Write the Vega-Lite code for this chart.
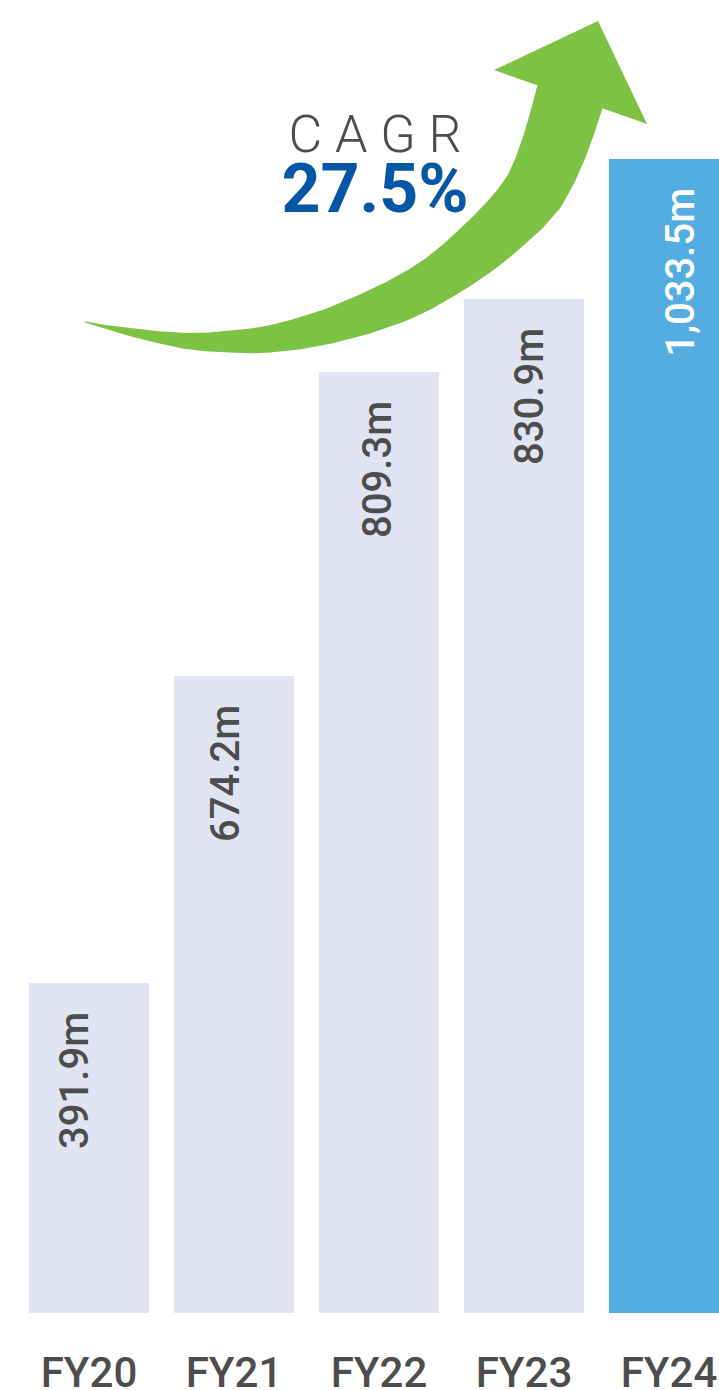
{
  "$schema": "https://vega.github.io/schema/vega-lite/v6.json",
  "width": 719,
  "height": 1313,
  "autosize": {"type": "none"},
  "padding": {"left": 0, "top": 0, "right": 0, "bottom": 77},
  "background": "white",
  "config": {"view": {"stroke": null}, "font": "Roboto"},
  "datasets": {
    "revenue": [
      {"year": "FY20", "revenue": 391.9, "label": "391.9m"},
      {"year": "FY21", "revenue": 674.2, "label": "674.2m"},
      {"year": "FY22", "revenue": 809.3, "label": "809.3m"},
      {"year": "FY23", "revenue": 830.9, "label": "830.9m"},
      {"year": "FY24", "revenue": 1033.5, "label": "1,033.5m"}
    ],
    "arrowBody": [
      {"order": 1, "ax": 85, "ay": 322, "thickness": 0},
      {"order": 2, "ax": 106.8, "ay": 327.1, "thickness": 4},
      {"order": 3, "ax": 130, "ay": 332, "thickness": 8},
      {"order": 4, "ax": 158.1, "ay": 337.1, "thickness": 12},
      {"order": 5, "ax": 186, "ay": 341, "thickness": 16},
      {"order": 6, "ax": 209, "ay": 342, "thickness": 19},
      {"order": 7, "ax": 230, "ay": 341.5, "thickness": 22},
      {"order": 8, "ax": 249, "ay": 341.1, "thickness": 24.5},
      {"order": 9, "ax": 270, "ay": 339, "thickness": 27},
      {"order": 10, "ax": 298.3, "ay": 333.9, "thickness": 31},
      {"order": 11, "ax": 330, "ay": 326, "thickness": 35},
      {"order": 12, "ax": 364.6, "ay": 314.2, "thickness": 40},
      {"order": 13, "ax": 397, "ay": 301, "thickness": 44},
      {"order": 14, "ax": 420.4, "ay": 289.1, "thickness": 45.5},
      {"order": 15, "ax": 440, "ay": 277, "thickness": 47},
      {"order": 16, "ax": 458.75, "ay": 263.75, "thickness": 50},
      {"order": 17, "ax": 476, "ay": 250, "thickness": 53},
      {"order": 18, "ax": 492, "ay": 236.3, "thickness": 55},
      {"order": 19, "ax": 507, "ay": 222, "thickness": 57},
      {"order": 20, "ax": 521.7, "ay": 207.1, "thickness": 59.5},
      {"order": 21, "ax": 535, "ay": 190, "thickness": 62},
      {"order": 22, "ax": 545.8, "ay": 168.5, "thickness": 64},
      {"order": 23, "ax": 555, "ay": 145, "thickness": 66},
      {"order": 24, "ax": 562.8, "ay": 121.2, "thickness": 67.5},
      {"order": 25, "ax": 570, "ay": 97, "thickness": 69}
    ],
    "arrowHead": [{"ax": 579.7, "ay": 71.7}],
    "cagrTitle": [{"ax": 375, "ay": 152, "text": "C A G R"}],
    "cagrValue": [{"ax": 375, "ay": 212, "text": "27.5%"}]
  },
  "layer": [
    {
      "data": {"name": "revenue"},
      "mark": {"type": "bar"},
      "encoding": {
        "x": {
          "field": "year", "type": "nominal", "sort": null,
          "scale": {"range": [0, 758], "paddingInner": 0.17241, "paddingOuter": 0.2},
          "axis": {
            "title": null, "domain": false, "ticks": false, "tickSize": 0, "grid": false,
            "labelAngle": 0, "labelFont": "Roboto", "labelFontSize": 42, "labelFontWeight": 500,
            "labelColor": "#4D4D4D", "labelBaseline": "alphabetic", "labelPadding": 73
          }
        },
        "y": {
          "field": "revenue", "type": "quantitative",
          "scale": {"domain": [0, 391.9, 674.2, 809.3, 830.9, 1033.5], "range": [1313, 983, 676, 372, 299, 159], "nice": false, "zero": false},
          "axis": null
        },
        "color": {
          "field": "year", "type": "nominal",
          "scale": {"domain": ["FY20", "FY21", "FY22", "FY23", "FY24"], "range": ["#E0E4F3", "#E0E4F3", "#E0E4F3", "#E0E4F3", "#53ADE0"]},
          "legend": null
        }
      }
    },
    {
      "data": {"name": "revenue"},
      "mark": {"type": "text", "angle": 270, "align": "right", "baseline": "middle", "yOffset": 29, "xOffset": 0, "font": "Roboto", "fontSize": 40, "fontWeight": 500},
      "encoding": {
        "x": {
          "field": "year", "type": "nominal", "sort": null,
          "scale": {"range": [0, 758], "paddingInner": 0.17241, "paddingOuter": 0.2},
          "axis": null
        },
        "y": {
          "field": "revenue", "type": "quantitative",
          "scale": {"domain": [0, 391.9, 674.2, 809.3, 830.9, 1033.5], "range": [1313, 983, 676, 372, 299, 159], "nice": false, "zero": false},
          "axis": null
        },
        "text": {"field": "label"},
        "color": {
          "field": "year", "type": "nominal",
          "scale": {"domain": ["FY20", "FY21", "FY22", "FY23", "FY24"], "range": ["#4D4D4D", "#4D4D4D", "#4D4D4D", "#4D4D4D", "#FFFFFF"]},
          "legend": null
        }
      }
    },
    {
      "data": {"name": "arrowBody"},
      "mark": {"type": "trail", "color": "#7DC243"},
      "encoding": {
        "x": {"field": "ax", "type": "quantitative", "scale": {"domain": [0, 719], "nice": false, "zero": false}, "axis": null},
        "y": {"field": "ay", "type": "quantitative", "scale": {"domain": [0, 1313], "reverse": true, "nice": false, "zero": false}, "axis": null},
        "size": {"field": "thickness", "type": "quantitative", "scale": null, "legend": null},
        "order": {"field": "order", "type": "quantitative"}
      }
    },
    {
      "data": {"name": "arrowHead"},
      "mark": {"type": "point", "shape": "M0.203,-0.563L-0.952,-0.019L0.748,0.581Z", "filled": true, "color": "#7DC243", "opacity": 1, "size": 32400, "strokeWidth": 0},
      "encoding": {
        "x": {"field": "ax", "type": "quantitative", "scale": {"domain": [0, 719], "nice": false, "zero": false}, "axis": null},
        "y": {"field": "ay", "type": "quantitative", "scale": {"domain": [0, 1313], "reverse": true, "nice": false, "zero": false}, "axis": null}
      }
    },
    {
      "data": {"name": "cagrTitle"},
      "mark": {"type": "text", "align": "center", "baseline": "alphabetic", "font": "Roboto", "fontSize": 52, "fontWeight": 300, "color": "#4D4D4D"},
      "encoding": {
        "x": {"field": "ax", "type": "quantitative", "scale": {"domain": [0, 719], "nice": false, "zero": false}, "axis": null},
        "y": {"field": "ay", "type": "quantitative", "scale": {"domain": [0, 1313], "reverse": true, "nice": false, "zero": false}, "axis": null},
        "text": {"field": "text"}
      }
    },
    {
      "data": {"name": "cagrValue"},
      "mark": {"type": "text", "align": "center", "baseline": "alphabetic", "font": "Roboto", "fontSize": 68, "fontWeight": "bold", "color": "#0556A5"},
      "encoding": {
        "x": {"field": "ax", "type": "quantitative", "scale": {"domain": [0, 719], "nice": false, "zero": false}, "axis": null},
        "y": {"field": "ay", "type": "quantitative", "scale": {"domain": [0, 1313], "reverse": true, "nice": false, "zero": false}, "axis": null},
        "text": {"field": "text"}
      }
    }
  ],
  "resolve": {
    "scale": {"x": "independent", "y": "independent", "color": "independent", "size": "independent"},
    "axis": {"x": "independent", "y": "independent"}
  }
}
